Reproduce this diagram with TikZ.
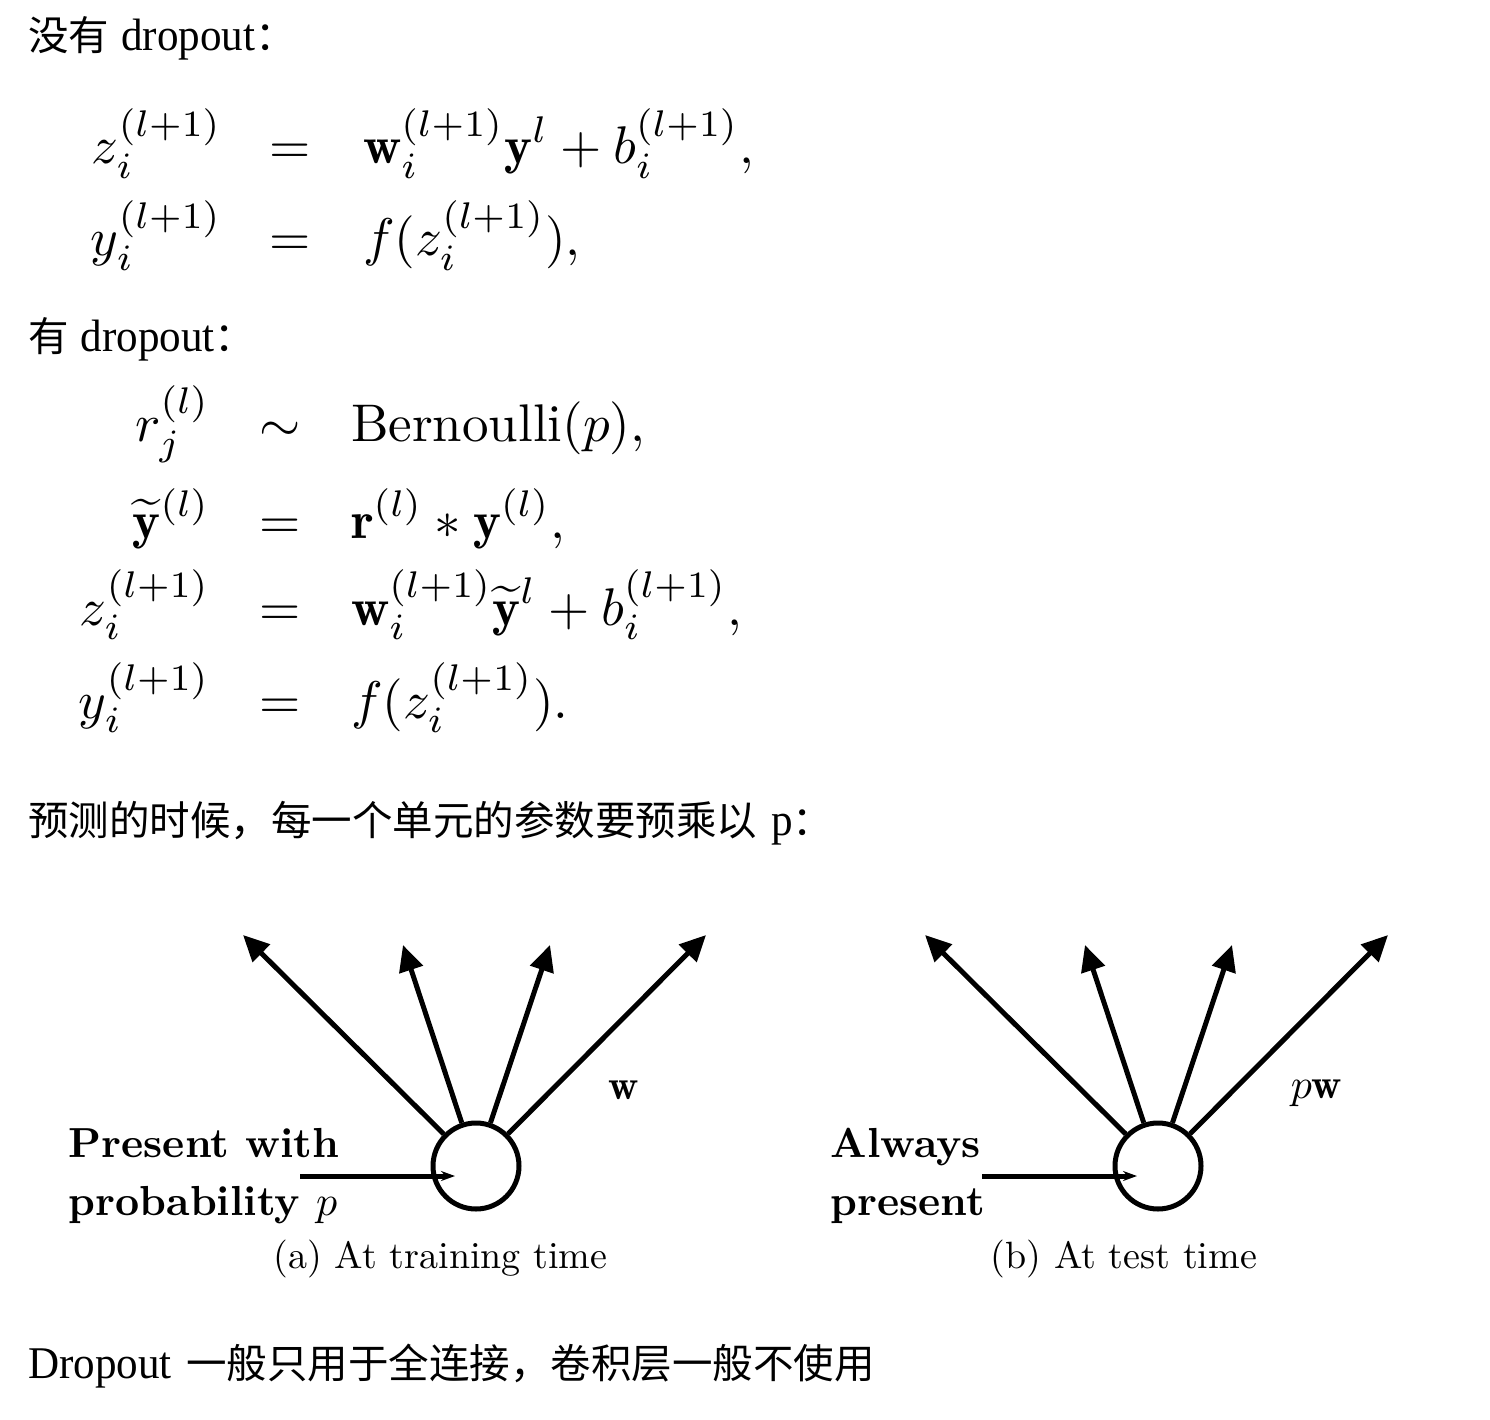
\RequirePackage{fix-cm}
\documentclass[tikz,border=0pt]{standalone}
\usepackage{amsmath}
\usepackage{fontspec}
\newfontfamily\cjk{Noto Sans CJK SC}
\newfontfamily\lat[Scale=1.12,FakeStretch=0.95]{Liberation Serif}
\usetikzlibrary{arrows.meta}
\begin{document}
\begin{tikzpicture}[x=1pt,y=-1pt,
  cjkline/.style={anchor=base west, inner sep=0pt, font=\fontsize{40.5}{48}\selectfont\cjk},
  eq/.style={inner sep=0pt, font=\fontsize{10}{12}\selectfont, scale=5.3, transform shape},
  lhs/.style={eq, anchor=base east},
  rel/.style={eq, anchor=base},
  rhs/.style={eq, anchor=base west},
  neuron/.style={circle, draw, line width=5pt, minimum size=86pt, inner sep=0pt},
  outarrow/.style={line width=5pt, -{Triangle[length=26pt,width=24pt]}},
  inarrow/.style={line width=5pt, -{Stealth[length=14pt,width=10pt]}},
  lab/.style={anchor=base west, inner sep=0pt, font=\fontsize{10}{12}\selectfont\bfseries, scale=4.2, transform shape},
  wlab/.style={anchor=base west, inner sep=0pt, font=\fontsize{10}{12}\selectfont, scale=4.2, transform shape},
  caplab/.style={anchor=base west, inner sep=0pt, font=\fontsize{10}{12}\selectfont, scale=3.8, transform shape}]
\useasboundingbox[fill=white] (0,0) rectangle (1490,1420);

% text lines
\node[cjkline] (l1) at (28,51) {没有\hspace{0.3em}{\lat dropout}：};
\node[cjkline] (l2) at (28,352) {有\hspace{0.3em}{\lat dropout}：};
\node[cjkline] (l3) at (28,835) {预测的时候，每一个单元的参数要预乘以\hspace{0.35em}{\lat p}：};
\node[cjkline] (l4) at (28,1378) {{\lat Dropout}\hspace{0.35em}一般只用于全连接，卷积层一般不使用};

% equations without dropout
\node[lhs] (a1) at (223,164) {$\displaystyle z_i^{(l+1)}$};
\node[rel] (b1) at (290,164) {$=$};
\node[rhs] (c1) at (362,164) {$\displaystyle \mathbf{w}_i^{(l+1)}\mathbf{y}^l + b_i^{(l+1)},$};
\node[lhs] (a2) at (223,256) {$\displaystyle y_i^{(l+1)}$};
\node[rel] (b2) at (290,256) {$=$};
\node[rhs] (c2) at (362,256) {$\displaystyle f(z_i^{(l+1)}),$};

% equations with dropout
\node[lhs] (a3) at (211,441) {$\displaystyle r_j^{(l)}$};
\node[rel] (b3) at (280,441) {$\sim$};
\node[rhs] (c3) at (350,441) {$\displaystyle \mathrm{Bernoulli}(p),$};
\node[lhs] (a4) at (211,538) {$\displaystyle \widetilde{\mathbf{y}}^{(l)}$};
\node[rel] (b4) at (280,538) {$=$};
\node[rhs] (c4) at (350,538) {$\displaystyle \mathbf{r}^{(l)} * \mathbf{y}^{(l)},$};
\node[lhs] (a5) at (211,625) {$\displaystyle z_i^{(l+1)}$};
\node[rel] (b5) at (280,625) {$=$};
\node[rhs] (c5) at (350,625) {$\displaystyle \mathbf{w}_i^{(l+1)}\widetilde{\mathbf{y}}^l + b_i^{(l+1)},$};
\node[lhs] (a6) at (211,718) {$\displaystyle y_i^{(l+1)}$};
\node[rel] (b6) at (280,718) {$=$};
\node[rhs] (c6) at (350,718) {$\displaystyle f(z_i^{(l+1)}).$};

% (a) training
\node[neuron] (na) at (476,1166) {};
\coordinate (ta1) at (243,935);
\coordinate (ta2) at (403,945);
\coordinate (ta3) at (550,945);
\coordinate (ta4) at (706,935);
\foreach \k in {1,2,3,4} \draw[outarrow] (na) -- (ta\k);
\coordinate (sa) at (300,1176);
\coordinate (ea) at (455,1176);
\draw[inarrow] (sa) -- (ea);
\node[wlab] (wa) at (608,1099) {$\mathbf{w}$};
\node[lab] (pa1) at (68,1157) {Present with};
\node[lab] (pa2) at (68,1215) {probability $p$};
\node[caplab] (ca) at (273,1268) {(a) At training time};

% (b) test
\node[neuron] (nb) at (1158,1166) {};
\coordinate (tb1) at (925,935);
\coordinate (tb2) at (1085,945);
\coordinate (tb3) at (1232,945);
\coordinate (tb4) at (1388,935);
\foreach \k in {1,2,3,4} \draw[outarrow] (nb) -- (tb\k);
\coordinate (sb) at (982,1176);
\coordinate (eb) at (1137,1176);
\draw[inarrow] (sb) -- (eb);
\node[wlab] (wb) at (1290,1098) {$p\mathbf{w}$};
\node[lab] (pb1) at (830,1157) {Always};
\node[lab] (pb2) at (830,1215) {present};
\node[caplab] (cb) at (990,1268) {(b) At test time};
\end{tikzpicture}
\end{document}
